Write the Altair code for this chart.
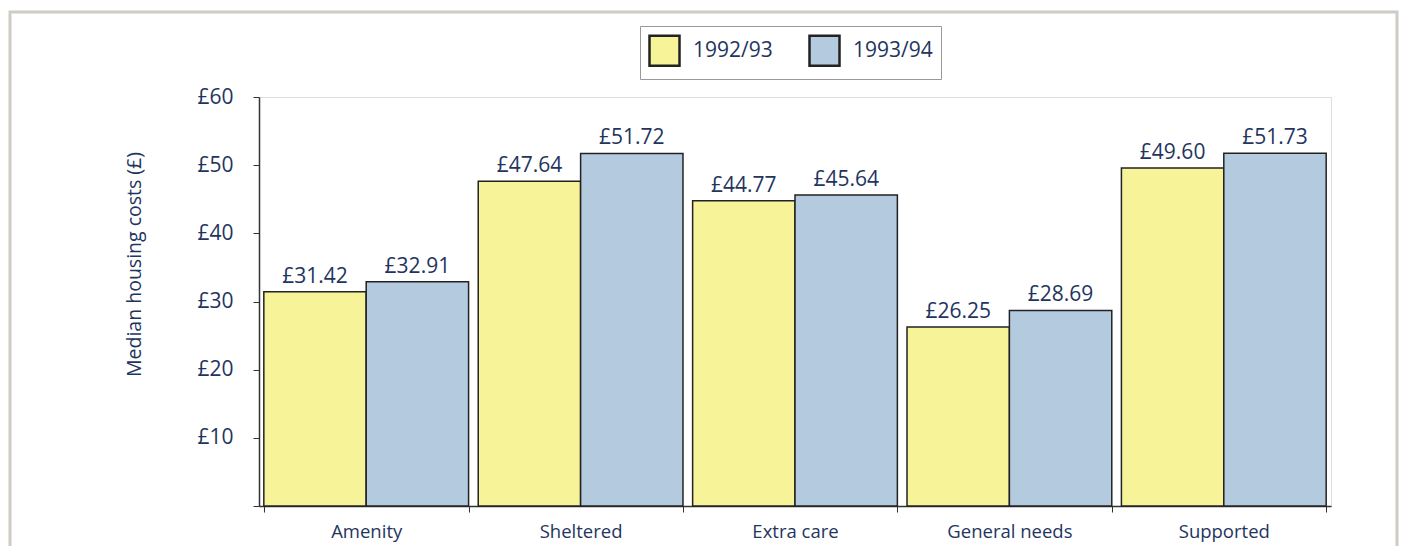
import altair as alt
import pandas as pd

categories = ["Amenity", "Sheltered", "Extra care", "General needs", "Supported"]
years = ["1992/93", "1993/94"]
values_9293 = [31.42, 47.64, 44.77, 26.25, 49.60]
values_9394 = [32.91, 51.72, 45.64, 28.69, 51.73]
colors = ["#f7f398", "#b4cadf"]

rows = []
for c, a, b in zip(categories, values_9293, values_9394):
    rows.append({"category": c, "year": years[0], "value": a})
    rows.append({"category": c, "year": years[1], "value": b})
df = pd.DataFrame(rows)

FONT = "Open Sans"
TXT = "#1f3560"

x = alt.X("category:N", sort=categories, title=None,
          scale=alt.Scale(paddingInner=0.045, paddingOuter=0.0225),
          axis=alt.Axis(labelAngle=0, labelFontSize=18.5, labelColor=TXT, labelFont=FONT,
                        labelPadding=10, tickSize=6, tickBand="extent",
                        domainColor="#333333", tickColor="#333333", domainWidth=1.5))
y = alt.Y("value:Q", title="Median housing costs (£)",
          scale=alt.Scale(domain=[0, 60], nice=False),
          axis=alt.Axis(values=[0, 10, 20, 30, 40, 50, 60], grid=False,
                        labelExpr="datum.value == 0 ? '' : '£' + datum.value",
                        labelFontSize=21, labelColor=TXT, labelFont=FONT, labelPadding=20,
                        tickSize=6, tickColor="#333333", domainColor="#333333", domainWidth=1.5,
                        titleFontSize=19.5, titleFont=FONT, titleColor=TXT, titleFontWeight="normal",
                        titlePadding=52, titleY=167))

base = alt.Chart(df)

bars = base.mark_bar(stroke="#222222", strokeWidth=1.5).encode(
    x=x,
    xOffset=alt.XOffset("year:N", sort=years),
    y=y,
    fill=alt.Fill("year:N", sort=years, scale=alt.Scale(domain=years, range=colors),
                  legend=alt.Legend(title=None, orient="none", direction="horizontal",
                                    legendX=381, legendY=-71,
                                    symbolType="square", symbolSize=900, symbolStrokeColor="#222222",
                                    symbolStrokeWidth=2.5, symbolOpacity=1,
                                    labelFontSize=21, labelFont=FONT, labelColor=TXT,
                                    labelOffset=12, columnPadding=31,
                                    strokeColor="#999999", padding=8, fillColor="white")),
)

labels = base.transform_calculate(
    label="'£' + format(datum.value, '.2f')"
).mark_text(dy=-9, baseline="alphabetic", fontSize=21, font=FONT, color=TXT).encode(
    x=alt.X("category:N", sort=categories),
    xOffset=alt.XOffset("year:N", sort=years),
    y="value:Q",
    text="label:N",
)

frame = alt.Chart(pd.DataFrame({"k": [0]})).mark_rect(
    fill=None, stroke="#d0cbc4", strokeWidth=3, clip=False
).encode(
    x=alt.value(-249), x2=alt.value(1138), y=alt.value(-85), y2=alt.value(560)
)

chart = alt.layer(frame, bars, labels).properties(
    width=1072, height=409,
    autosize=alt.AutoSizeParams(type="none"),
    padding={"left": 251, "top": 89, "right": 68, "bottom": 40},
).configure_view(stroke="#999999", strokeWidth=1.5).configure(background="white")

chart.save("out.html", embed_options={"renderer": "svg", "actions": False})
